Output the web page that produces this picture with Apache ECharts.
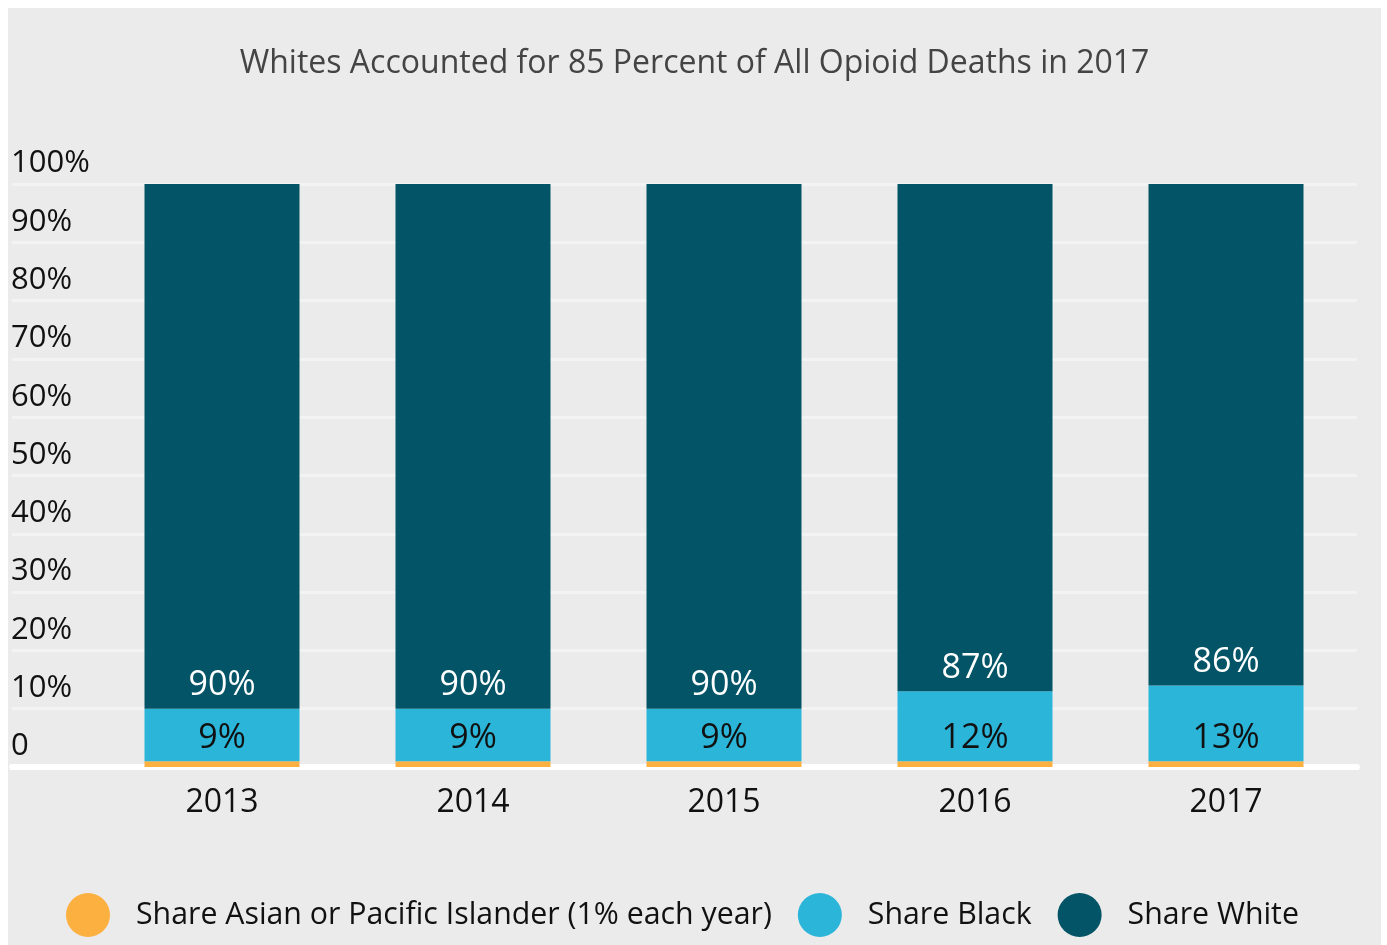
<!DOCTYPE html>
<html>
<head>
<meta charset="utf-8">
<script src="https://cdn.jsdelivr.net/npm/echarts@6/dist/echarts.min.js"></script>
<style>
html,body{margin:0;padding:0;background:#ffffff;}
#chart{position:absolute;left:8px;top:8px;width:1373px;height:937px;background:#ebebeb;}
</style>
</head>
<body>
<div id="chart"></div>
<script>
var years = ['2013', '2014', '2015', '2016', '2017'];
var shareAsian = [1, 1, 1, 1, 1];
var shareBlack = [9, 9, 9, 12, 13];
var shareWhite = [90, 90, 90, 87, 86];
var yTicks = ['0', '10%', '20%', '30%', '40%', '50%', '60%', '70%', '80%', '90%', '100%'];

var FONT = '"Open Sans", "Noto Sans", sans-serif';
var chart = echarts.init(document.getElementById('chart'));
chart.setOption({
  backgroundColor: '#ebebeb',
  animation: false,
  textStyle: { fontFamily: FONT },
  title: {
    text: 'Whites Accounted for 85 Percent of All Opioid Deaths in 2017',
    left: 'center',
    top: 35,
    textStyle: { fontFamily: FONT, fontSize: 32, fontWeight: 'normal', color: '#444444' }
  },
  legend: {
    bottom: 3,
    left: 53,
    icon: 'circle',
    itemWidth: 44,
    itemHeight: 44,
    itemGap: 26,
    textStyle: { fontFamily: FONT, fontSize: 30.3, color: '#111111', padding: [0, 0, 0, 21] },
    data: ['Share Asian or Pacific Islander (1% each year)', 'Share Black', 'Share White']
  },
  grid: [
    { left: 1, right: 24, top: 176, bottom: 178 },
    { left: 88.5, right: 29.5, top: 176, bottom: 178 }
  ],
  xAxis: [
    {
      gridIndex: 0, type: 'category', data: years,
      axisLine: { show: true, lineStyle: { color: '#ffffff', width: 6 } },
      axisTick: { show: false }, axisLabel: { show: false }, splitLine: { show: false }
    },
    {
      gridIndex: 1, type: 'category', data: years,
      axisLine: { show: false }, axisTick: { show: false },
      axisLabel: { show: true, fontFamily: FONT, fontSize: 32, color: '#111111', margin: 20 }
    }
  ],
  yAxis: [
    {
      gridIndex: 0, type: 'value', min: 0, max: 100, interval: 10,
      axisLine: { show: false }, axisTick: { show: false },
      splitLine: { show: true, lineStyle: { color: '#f3f3f3', width: 3 } },
      axisLabel: {
        inside: true, margin: -1, fontFamily: FONT, fontSize: 31, color: '#111111',
        verticalAlign: 'bottom', padding: [0, 0, 5, 0],
        formatter: function (v) { return yTicks[Math.round(v / 10)]; }
      }
    },
    {
      gridIndex: 1, type: 'value', min: 0, max: 100, interval: 10, show: false,
      splitLine: { show: false }
    }
  ],
  series: [
    {
      name: 'Share Asian or Pacific Islander (1% each year)', type: 'bar', stack: 's',
      xAxisIndex: 1, yAxisIndex: 1, barWidth: 155, data: shareAsian,
      itemStyle: { color: '#fcb040' }
    },
    {
      name: 'Share Black', type: 'bar', stack: 's',
      xAxisIndex: 1, yAxisIndex: 1, barWidth: 155, data: shareBlack,
      itemStyle: { color: '#2ab5d9' },
      label: { show: true, position: 'insideBottom', distance: 6, fontFamily: FONT, fontSize: 34, color: '#111111', formatter: '{c}%' }
    },
    {
      name: 'Share White', type: 'bar', stack: 's',
      xAxisIndex: 1, yAxisIndex: 1, barWidth: 155, data: shareWhite,
      itemStyle: { color: '#025466' },
      label: { show: true, position: 'insideBottom', distance: 6, fontFamily: FONT, fontSize: 34, color: '#ffffff', formatter: '{c}%' }
    }
  ]
});
</script>
</body>
</html>
